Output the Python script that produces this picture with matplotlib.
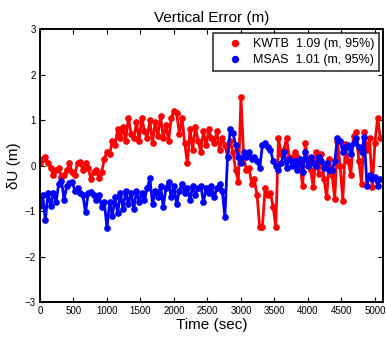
import numpy as np
import matplotlib.pyplot as plt
from matplotlib.lines import Line2D

plt.rcParams['font.family'] = ['Liberation Sans', 'DejaVu Sans']

# sample epochs (sec), one every 40 s
time_s = list(range(0, 5120, 40))

kwtb_du = [
    0.05, 0.15, 0.2, 0.05, -0.05, -0.2, -0.1, -0.05, -0.25, -0.2,
    -0.1, 0.05, -0.15, -0.2, 0.05, 0.07, -0.1, 0.05, -0.05, -0.3,
    -0.15, -0.1, -0.28, -0.15, 0.15, 0.3, 0.25, 0.55, 0.45, 0.8,
    0.6, 0.85, 0.55, 1.05, 0.7, 0.6, 0.95, 0.55, 1.05, 0.75,
    0.6, 1.0, 0.5, 0.95, 0.65, 1.1, 0.6, 0.9, 0.55, 1.05,
    1.2, 1.15, 0.7, 1.05, 0.5, 0.05, 0.8, 0.35, 0.85, 0.55,
    0.3, 0.75, 0.45, 0.8, 0.6, 0.5, 0.75, 0.35, 0.6, 0.45,
    0.2, 0.55, 0.3, -0.1, -0.35, 1.5, 0.2, -0.1, -0.05, -0.4,
    -0.3, -0.65, -1.35, -1.35, -0.5, -0.65, -0.6, -0.9, -1.35, 0.6,
    0.25, 0.35, 0.6, 0.2, 0.1, 0.3, 0.2, 0.05, -0.45, 0.5,
    0.1, -0.1, -0.48, 0.3, -0.18, 0.25, -0.3, -0.7, 0.15, -0.2,
    -0.73, 0.55, 0.0, -0.77, 0.48, 0.1, -0.2, 0.66, 0.73, 0.1,
    -0.4, 0.73, 0.35, 0.6, -0.48, 0.5, 1.05, 0.6,
]

msas_du = [
    -0.88, -0.65, -1.2, -0.6, -0.88, -0.6, -0.8, -0.4, -0.33, -0.75,
    -0.45, -0.38, -0.35, -0.55, -0.5, -0.6, -0.65, -1.03, -0.6, -0.58,
    -0.65, -0.75, -0.65, -0.9, -0.8, -1.38, -0.8, -1.1, -0.7, -1.05,
    -0.6, -0.95, -0.55, -0.85, -0.6, -0.95, -0.55, -0.8, -0.6, -0.75,
    -0.5, -0.28, -0.85, -0.55, -0.7, -0.45, -0.9, -0.5, -0.35, -0.7,
    -0.45, -0.85, -0.55, -0.4, -0.6, -0.5, -0.75, -0.45, -0.65, -0.5,
    -0.45, -0.8, -0.5, -0.6, -0.45, -0.7, -0.5, -0.4, -0.55, -1.12,
    0.2, 0.8, 0.72, 0.45, 0.2, 0.05, 0.3, 0.2, 0.3, 0.15,
    0.2, 0.1, -0.05, 0.45, 0.5, 0.4, 0.35, 0.1, 0.0, -0.1,
    0.05, 0.3, -0.05, 0.15, 0.0, 0.1, -0.1, 0.15, -0.15, 0.3,
    0.0, 0.2, 0.05, 0.0, 0.2, 0.1, -0.05, 0.05, -0.1, -0.1,
    0.1, 0.6, 0.55, 0.3, 0.4, 0.45, 0.25, 0.5, 0.6, 0.4,
    0.3, 0.62, -0.44, -0.2, -0.3, -0.25, -0.45, -0.3,
]

labels = ['KWTB  1.09 (m, 95%)', 'MSAS  1.01 (m, 95%)']
colors = ['#ff0000', '#0000ff']

fig = plt.figure(figsize=(3.86, 3.39), dpi=100)
ax = fig.add_axes([0.1036, 0.109, 0.8886, 0.805])

for ys, c in zip([kwtb_du, msas_du], colors):
    ax.plot(time_s, ys, '-o', color=c, lw=2.0, ms=3.8, mec=c, mfc=c)

ax.set_xlim(0, 5120)
ax.set_ylim(-3, 3)
ax.set_xticks(range(0, 5001, 500))
ax.set_yticks(range(-3, 4))
ax.tick_params(direction='in', top=True, right=True, labelsize=7, length=3.5,
               width=0.8, pad=3)
for s in ax.spines.values():
    s.set_linewidth(1.4)

ax.set_title('Vertical Error (m)', fontsize=11, pad=5)
ax.set_xlabel('Time (sec)', fontsize=11, labelpad=1)
ax.set_ylabel('δU (m)', fontsize=11, labelpad=3)

handles = [Line2D([], [], ls='none', marker='o', ms=4.3, color=c) for c in colors]
leg = ax.legend(handles, labels, loc='upper right', fontsize=9, frameon=True,
                fancybox=False, borderaxespad=0.3, handletextpad=0.0,
                handlelength=2.8, borderpad=0.4, labelspacing=0.35)
leg.get_frame().set_edgecolor('black')
leg.get_frame().set_linewidth(1.2)

fig.savefig('out.png', dpi=100)
